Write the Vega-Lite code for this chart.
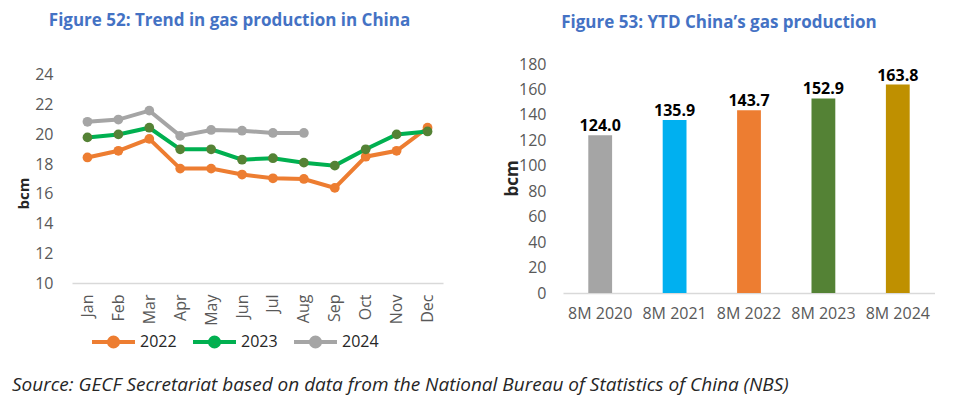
{
  "$schema": "https://vega.github.io/schema/vega-lite/v6.json",
  "background": "white",
  "padding": {"left": 12, "top": 12, "right": 0, "bottom": 6},
  "spacing": 60,
  "title": {
    "text": "Source: GECF Secretariat based on data from the National Bureau of Statistics of China (NBS)",
    "orient": "bottom", "anchor": "start", "font": "Open Sans", "fontStyle": "italic",
    "fontWeight": "normal", "fontSize": 19, "color": "#262626", "offset": 21, "dx": -4
  },
  "config": {
    "view": {"stroke": null},
    "font": "Open Sans",
    "axis": {"labelFont": "Open Sans", "titleFont": "Open Sans", "labelFontSize": 16, "labelColor": "#595959", "titleColor": "#262626", "grid": false, "ticks": false}
  },
  "hconcat": [
    {
      "width": 371,
      "height": 219,
      "title": {"text": "Figure 52: Trend in gas production in China", "frame": "bounds", "anchor": "middle", "font": "Open Sans", "fontSize": 17, "fontWeight": "bold", "color": "#4472C4", "offset": 34},
      "data": {"values": [
        {"month": "Jan", "year": "2022", "value": 18.45},
        {"month": "Feb", "year": "2022", "value": 18.9},
        {"month": "Mar", "year": "2022", "value": 19.7},
        {"month": "Apr", "year": "2022", "value": 17.7},
        {"month": "May", "year": "2022", "value": 17.7},
        {"month": "Jun", "year": "2022", "value": 17.3},
        {"month": "Jul", "year": "2022", "value": 17.05},
        {"month": "Aug", "year": "2022", "value": 17.0},
        {"month": "Sep", "year": "2022", "value": 16.4},
        {"month": "Oct", "year": "2022", "value": 18.5},
        {"month": "Nov", "year": "2022", "value": 18.9},
        {"month": "Dec", "year": "2022", "value": 20.45},
        {"month": "Jan", "year": "2023", "value": 19.8},
        {"month": "Feb", "year": "2023", "value": 20.0},
        {"month": "Mar", "year": "2023", "value": 20.45},
        {"month": "Apr", "year": "2023", "value": 19.0},
        {"month": "May", "year": "2023", "value": 19.0},
        {"month": "Jun", "year": "2023", "value": 18.3},
        {"month": "Jul", "year": "2023", "value": 18.4},
        {"month": "Aug", "year": "2023", "value": 18.1},
        {"month": "Sep", "year": "2023", "value": 17.9},
        {"month": "Oct", "year": "2023", "value": 19.0},
        {"month": "Nov", "year": "2023", "value": 20.0},
        {"month": "Dec", "year": "2023", "value": 20.2},
        {"month": "Jan", "year": "2024", "value": 20.85},
        {"month": "Feb", "year": "2024", "value": 21.0},
        {"month": "Mar", "year": "2024", "value": 21.6},
        {"month": "Apr", "year": "2024", "value": 19.9},
        {"month": "May", "year": "2024", "value": 20.3},
        {"month": "Jun", "year": "2024", "value": 20.25},
        {"month": "Jul", "year": "2024", "value": 20.1},
        {"month": "Aug", "year": "2024", "value": 20.1}
      ]},
      "encoding": {
        "x": {"field": "month", "type": "ordinal",
          "sort": ["Jan","Feb","Mar","Apr","May","Jun","Jul","Aug","Sep","Oct","Nov","Dec"],
          "scale": {"type": "point", "padding": 0.5},
          "axis": {"title": null, "labelAngle": -90, "labelPadding": 11, "domainColor": "#D9D9D9", "domainWidth": 1.5}},
        "y": {"field": "value", "type": "quantitative",
          "scale": {"domain": [10, 24.74], "nice": false, "zero": false},
          "axis": {"values": [10,12,14,16,18,20,22,24], "domain": false, "labelPadding": 19,
            "title": "bcm", "titleFontSize": 15, "titleFontWeight": "bold", "titleX": -49, "titleY": 129,
            "titleAngle": 270, "titleAlign": "center", "titleBaseline": "middle"}}
      },
      "layer": [
        {
          "mark": {"type": "line", "strokeWidth": 4},
          "encoding": {
            "stroke": {"field": "year", "type": "nominal",
              "scale": {"domain": ["2022","2023","2024"], "range": ["#ED7D31","#00B050","#A5A5A5"]},
              "legend": {"title": null, "orient": "none", "legendX": 32, "legendY": 268, "direction": "horizontal", "labelFontSize": 16, "labelColor": "#262626", "labelFont": "Open Sans",
                "symbolType": "M-3,0L3,0M0.63,0A0.63,0.63,0,1,1,-0.63,0A0.63,0.63,0,1,1,0.63,0Z",
                "symbolSize": 205, "symbolStrokeWidth": 4, "labelOffset": 17, "columnPadding": 8}}
          }
        },
        {
          "mark": {"type": "point", "filled": true, "size": 95, "opacity": 1},
          "encoding": {
            "fill": {"field": "year", "type": "nominal",
              "scale": {"domain": ["2022","2023","2024"], "range": ["#ED7D31","#548235","#A5A5A5"]},
              "legend": {"title": null, "orient": "none", "legendX": 32, "legendY": 268, "direction": "horizontal", "labelFontSize": 16, "labelColor": "#262626", "labelFont": "Open Sans",
                "symbolType": "M-3,0L3,0M0.63,0A0.63,0.63,0,1,1,-0.63,0A0.63,0.63,0,1,1,0.63,0Z",
                "symbolSize": 205, "symbolStrokeWidth": 4, "labelOffset": 17, "columnPadding": 8}}
          }
        }
      ]
    },
    {
      "width": 372,
      "height": 229,
      "title": {"text": "Figure 53: YTD China’s gas production", "frame": "bounds", "anchor": "middle", "font": "Open Sans", "fontSize": 17, "fontWeight": "bold", "color": "#4472C4", "offset": 24},
      "data": {"values": [
        {"period": "8M 2020", "value": 124.0},
        {"period": "8M 2021", "value": 135.9},
        {"period": "8M 2022", "value": 143.7},
        {"period": "8M 2023", "value": 152.9},
        {"period": "8M 2024", "value": 163.8}
      ]},
      "encoding": {
        "x": {"field": "period", "type": "nominal", "sort": null,
          "scale": {"paddingInner": 0.68, "paddingOuter": 0.34},
          "axis": {"title": null, "labelAngle": 0, "labelPadding": 12, "domainColor": "#D9D9D9", "domainWidth": 1.5}},
        "y": {"field": "value", "type": "quantitative",
          "scale": {"domain": [0, 180], "nice": false},
          "axis": {"values": [0,20,40,60,80,100,120,140,160,180], "domain": false, "labelPadding": 17,
            "title": "bcm", "titleFontSize": 17, "titleFontWeight": "bold", "titleX": -51, "titleY": 114,
            "titleAngle": 270, "titleAlign": "center", "titleBaseline": "middle"}}
      },
      "layer": [
        {
          "mark": {"type": "bar"},
          "encoding": {
            "color": {"field": "period", "type": "nominal",
              "scale": {"range": ["#A5A5A5","#00B0F0","#ED7D31","#548235","#BF9000"]}, "legend": null}
          }
        },
        {
          "mark": {"type": "text", "fontWeight": "bold", "fontSize": 16, "baseline": "alphabetic", "dy": -4, "color": "#000000"},
          "encoding": {"text": {"field": "value", "type": "quantitative", "format": ".1f"}}
        }
      ]
    }
  ]
}
